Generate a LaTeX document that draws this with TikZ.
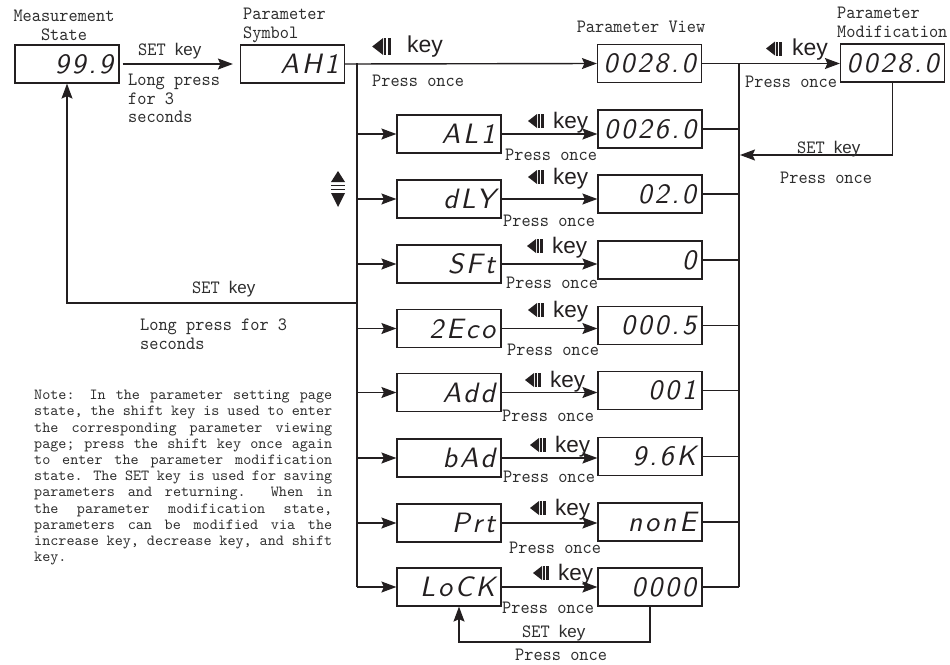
\documentclass[tikz,border=0pt]{standalone}
\usepackage{fontspec}
\usetikzlibrary{arrows.meta}
\setmainfont{Liberation Serif}
\newfontfamily\lblfont[Extension=.otf,FakeStretch=0.93]{lmmono10-regular}
\newfontfamily\notefont[Extension=.otf,FakeStretch=1.0]{lmmono10-regular}
\newfontfamily\keyfont{Liberation Sans}
\newfontfamily\segfont[Extension=.otf,LetterSpace=10]{lmsans10-oblique}
\definecolor{linec}{HTML}{231F20}
\definecolor{txtc}{HTML}{2E2E2E}
\newcommand\skeyw{{\keyfont\fontsize{17}{17}\selectfont key}}
\begin{document}
\begin{tikzpicture}[x=1pt,y=-1pt,
  disp/.style={draw=linec, line width=1.2pt, minimum height=38pt, inner xsep=6pt, inner ysep=0pt,
    text width=92pt, align=right, font=\segfont\fontsize{28}{28}\selectfont, text=linec},
  lbl/.style={font=\lblfont\fontsize{18.8}{18.5}\selectfont, text=txtc, inner sep=0pt},
  notetxt/.style={font=\notefont\fontsize{15.4}{16.2}\selectfont, text=txtc, inner sep=0pt},
  kl/.style={font=\keyfont\fontsize{22.5}{22.5}\selectfont, text=linec, inner sep=0pt, anchor=base west},
  conn/.style={draw=linec, line width=1.4pt},
  arr/.style={conn, -{Stealth[length=15pt,width=11pt,inset=2.5pt]}},
  shiftkey/.pic={\fill[linec] (-9,0) -- (0,-7) -- (0,7) -- cycle;
    \fill[linec] (1,-7) rectangle (2.6,7);
    \fill[linec] (4,-7) rectangle (6.5,7);}
]
\useasboundingbox (0,0) rectangle (950,664);

% top row boxes
\node[disp] (ms) at (67,64) {99.9};
\node[disp] (ps) at (292.5,64) {AH1};
\node[disp] (pv) at (649.5,63.5) {0028.0};
\node[disp] (pm) at (892.5,63) {0028.0};

% titles
\node[lbl, anchor=north, align=center] (tms) at (64,10) {Measurement\\State};
\node[lbl, anchor=north west, align=left] (tps) at (243,8) {Parameter\\Symbol};
\node[lbl, anchor=base] (tpv) at (641,32) {Parameter View};
\node[lbl, anchor=north west, align=left] (tpm) at (837,7) {Parameter\\Modification};

% buses
\coordinate (busT) at (357,63);
\coordinate (rbT) at (739,63);

% measurement -> symbol
\draw[arr, shorten <=3pt, shorten >=7pt] (ms.east) -- (ps.west);
\node[lbl, anchor=base west] (s1) at (138,55) {SET \skeyw};
\node[lbl, anchor=north west, align=left] (s1b) at (128,74) {Long press\\for 3\\seconds};

% symbol -> view
\draw[arr] (ps.east) -- (pv.west);
\pic[scale=1.2] at (383,46.5) {shiftkey};
\node[kl, font=\keyfont\fontsize{23}{23}\selectfont] (k0) at (407,52) {key};
\node[lbl, anchor=base west] (p0) at (372,86) {Press once};

% view -> modification
\draw[arr] (pv.east) -- (pv.east -| pm.west);
\pic at (775,48.5) {shiftkey};
\node[kl, font=\keyfont\fontsize{23}{23}\selectfont] (k1) at (792,55) {key};
\node[lbl, anchor=base west] (p1) at (745,87) {Press once};

% modification -> back
\coordinate (rr) at (740,155);
\draw[arr] (pm.south) |- (rr);
\node[lbl, anchor=base west] (s2) at (797,153) {SET \skeyw};
\node[lbl, anchor=base west] (p2) at (780,183) {Press once};

% rows
\foreach \nm/\lt/\rt/\ly/\ry/\kx/\kb/\px/\pb in {
  a/AL1/0026.0/134/129/553/6/505/26,
  b/dLY/02.0/199/194/553/15/503/27,
  c/SFt/0/264/260/552/11/506/24,
  d/2Eco/000.5/328.5/325.5/553/11.5/507/26.5,
  e/Add/001/392.5/390.5/550/5.5/502/28.5,
  f/bAd/9.6K/458/456.5/555/6/503/24,
  g/Prt/nonE/523/522/555/8/509/30,
  h/LoCK/0000/587/587/558/7/502/26}{
  \node[disp] (\nm L) at (449,\ly) {\lt};
  \node[disp] (\nm R) at (650,\ry) {\rt};
  \draw[arr] (\nm L.west -| busT) -- (\nm L.west);
  \draw[arr] (\nm L.east) -- (\nm L.east -| \nm R.west);
  \draw[conn] (\nm R.east) -- (\nm R.east -| rbT);
  \pic at (\kx-16,\ly-\kb-7) {shiftkey};
  \node[kl] (\nm K) at (\kx,\ly-\kb) {key};
  \node[lbl, anchor=base west] (\nm P) at (\px,\ly+\pb) {Press once};
}

% bus lines
\draw[conn] (busT) -- (busT |- hL.west);
\draw[conn] (rbT) -- (rbT |- hR.east);

% up/down symbol
\fill[linec] (331,182) -- (345,182) -- (338,171) -- cycle;
\fill[linec] (331,184.5) rectangle (345,186);
\fill[linec] (331,188.5) rectangle (345,190);
\fill[linec] (331,193) -- (345,193) -- (338,207) -- cycle;

% return to measurement
\coordinate (rt) at (357,303);
\draw[arr] (rt) -| (ms.south);
\node[lbl, anchor=base west] (s3) at (192,293) {SET \skeyw};
\node[lbl, anchor=north west, align=left] (s3b) at (140,319) {Long press for 3\\seconds};

% bottom loop
\coordinate (bl) at (459,642);
\draw[arr] (hR.south) |- (bl) -- (bl |- hL.south);
\node[lbl, anchor=base west] (s4) at (522,637) {SET \skeyw};
\node[lbl, anchor=base west] (p4) at (515,660) {Press once};

% note
\node[notetxt, anchor=north west, text width=298pt, align=justify] (note) at (34,390) {Note: In the parameter setting page\linebreak
state, the shift key is used to enter\linebreak
the corresponding parameter viewing\linebreak
page; press the shift key once again\linebreak
to enter the parameter modification\linebreak
state. The SET key is used for saving\linebreak
parameters and returning. When in\linebreak
the parameter modification state,\linebreak
parameters can be modified via the\linebreak
increase key, decrease key, and shift\linebreak
key.};
\end{tikzpicture}
\end{document}
